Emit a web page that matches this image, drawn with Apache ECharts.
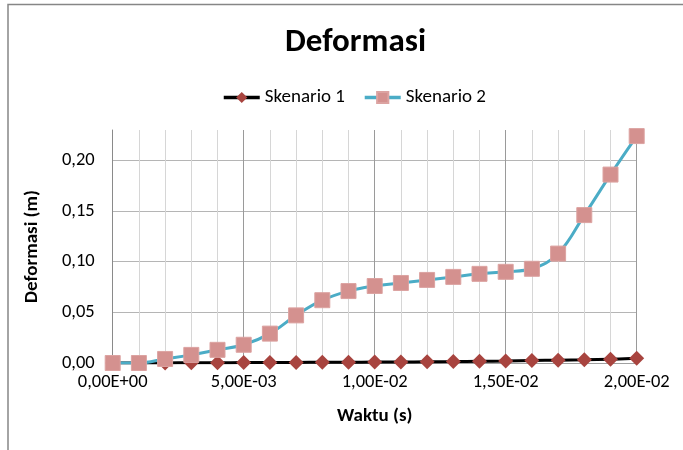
<!DOCTYPE html>
<html>
<head>
<meta charset="utf-8">
<script src="https://cdn.jsdelivr.net/npm/echarts@6/dist/echarts.min.js"></script>
<style>
html,body{margin:0;padding:0;background:#fff;}
#chart{width:683px;height:450px;}
</style>
</head>
<body>
<div id="chart"></div>
<script>
var titleText = 'Deformasi';
var xAxisName = 'Waktu (s)';
var yAxisName = 'Deformasi (m)';
var seriesNames = ['Skenario 1', 'Skenario 2'];
var waktu = [0, 0.001, 0.002, 0.003, 0.004, 0.005, 0.006, 0.007, 0.008, 0.009, 0.010,
             0.011, 0.012, 0.013, 0.014, 0.015, 0.016, 0.017, 0.018, 0.019, 0.020];
var skenario1 = [0, 0.00005, 0.0001, 0.0002, 0.0003, 0.0004, 0.0005, 0.0006, 0.0007, 0.0008, 0.0009,
                 0.001, 0.0012, 0.0014, 0.0017, 0.002, 0.0024, 0.0028, 0.0031, 0.0038, 0.0046];
var skenario2 = [0, 0, 0.004, 0.008, 0.013, 0.018, 0.029, 0.047, 0.062, 0.071, 0.076,
                 0.079, 0.082, 0.085, 0.088, 0.090, 0.093, 0.108, 0.146, 0.186, 0.224];

var FONT = 'Carlito, Calibri, Lato, sans-serif';

function pairs(xs, ys) { return xs.map(function (x, i) { return [x, ys[i]]; }); }
function sci(v) {
  if (Math.abs(v) < 1e-12) return '0,00E+00';
  var e = Math.floor(Math.log10(Math.abs(v)) + 1e-9);
  var m = v / Math.pow(10, e);
  var es = (e < 0 ? '-' : '+') + (Math.abs(e) < 10 ? '0' : '') + Math.abs(e);
  return m.toFixed(2).replace('.', ',') + 'E' + es;
}

var chart = echarts.init(document.getElementById('chart'), null, {renderer: 'canvas'});
chart.setOption({
  backgroundColor: '#ffffff',
  animation: false,
  graphic: [{
    type: 'rect', z: -1, silent: true,
    shape: {x: 8, y: 4.5, width: 700, height: 480},
    style: {fill: 'none', stroke: '#868686', lineWidth: 1.5}
  }],
  title: {
    text: titleText, left: 280, top: 21,
    textStyle: {fontFamily: FONT, fontSize: 33, fontWeight: 'bold', color: '#000'}
  },
  legend: {
    top: 83, left: 217, itemWidth: 36, itemHeight: 14, itemGap: 18,
    lineStyle: {width: 3.5},
    textStyle: {fontFamily: FONT, fontSize: 19, color: '#000'},
    data: seriesNames
  },
  grid: {left: 112.7, right: 46.3, top: 130, bottom: 87, containLabel: false},
  xAxis: {
    type: 'value', min: 0, max: 0.02, interval: 0.005,
    name: xAxisName, nameLocation: 'middle', nameGap: 44,
    nameTextStyle: {fontFamily: FONT, fontSize: 19, fontWeight: 'bold', color: '#000'},
    axisLine: {show: true, lineStyle: {color: '#a0a0a0', width: 1}},
    axisTick: {show: false},
    axisLabel: {fontFamily: FONT, fontSize: 18.5, color: '#000', margin: 10, formatter: sci},
    splitLine: {show: true, lineStyle: {color: '#9a9a9a', width: 1}},
    minorTick: {show: false, splitNumber: 5},
    minorSplitLine: {show: true, lineStyle: {color: '#d6d6d6', width: 1}}
  },
  yAxis: {
    type: 'value', min: 0, max: 0.23, interval: 0.05,
    name: yAxisName, nameLocation: 'middle', nameGap: 71, nameRotate: 90,
    nameTextStyle: {fontFamily: FONT, fontSize: 19, fontWeight: 'bold', color: '#000'},
    axisLine: {show: true, lineStyle: {color: '#8a8a8a', width: 1}},
    axisTick: {show: false},
    axisLabel: {fontFamily: FONT, fontSize: 18.5, color: '#000', margin: 18, showMaxLabel: false,
      formatter: function (v) { return v.toFixed(2).replace('.', ','); }},
    splitLine: {show: true, lineStyle: {color: ['#b5b5b5', '#b5b5b5', '#b5b5b5', '#b5b5b5', '#b5b5b5', 'rgba(0,0,0,0)'], width: 1}}
  },
  series: [{
    name: seriesNames[0], type: 'line', smooth: 0.4,
    data: pairs(waktu, skenario1),
    symbol: 'diamond', symbolSize: [15, 15],
    lineStyle: {color: '#000000', width: 3},
    itemStyle: {color: '#a8443f', borderWidth: 0}
  }, {
    name: seriesNames[1], type: 'line', smooth: 0.4,
    data: pairs(waktu, skenario2),
    symbol: 'rect', symbolSize: [15, 15],
    lineStyle: {color: '#4bacc6', width: 3},
    itemStyle: {color: '#d4918f', borderColor: '#dca3a1', borderWidth: 1}
  }]
});
</script>
</body>
</html>
